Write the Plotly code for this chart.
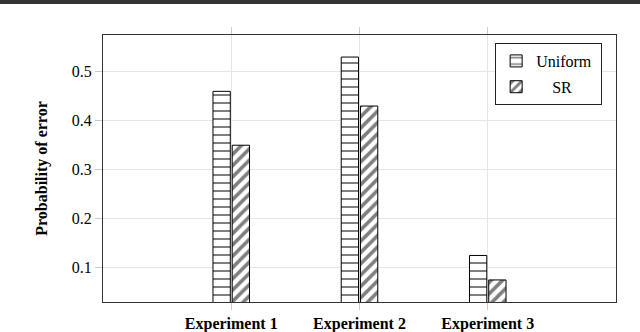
import plotly.graph_objects as go

experiments = ["Experiment 1", "Experiment 2", "Experiment 3"]
uniform = [0.46, 0.53, 0.125]
sr = [0.35, 0.43, 0.075]
y_ticks = [0.1, 0.2, 0.3, 0.4, 0.5]

serif = "Liberation Serif"

fig = go.Figure()
fig.add_trace(go.Bar(
    x=experiments, y=uniform, name="Uniform\u00a0",
    legendgroup="u",
    marker=dict(color="white", line=dict(color="black", width=1),
                pattern=dict(shape="-", fgcolor="black", bgcolor="white", size=8, solidity=0.25)),
))
fig.add_trace(go.Bar(
    x=experiments, y=sr, name="\u00a0\u00a0\u00a0\u00a0SR",
    legendgroup="s",
    marker=dict(color="white", line=dict(color="black", width=1),
                pattern=dict(shape="/", fgcolor="black", bgcolor="white", size=8, solidity=0.45)),
))

# dark strip across the very top of the picture
fig.add_shape(type="rect", xref="paper", yref="paper",
              x0=-0.25, x1=1.1, y0=1.116, y1=1.135,
              fillcolor="#333", line_width=0, layer="above")

fig.update_layout(
    width=640, height=332,
    margin=dict(l=103, r=24, t=35, b=30),
    paper_bgcolor="white", plot_bgcolor="white",
    barmode="group", bargap=0.7, bargroupgap=0.1,
    font=dict(family=serif, color="black"),
    showlegend=True,
    legend=dict(x=0.973, y=0.97, xanchor="right", yanchor="top",
                bordercolor="#222", borderwidth=1, bgcolor="white",
                font=dict(family=serif, size=16),
                traceorder="grouped", tracegroupgap=2, itemwidth=30),
)
fig.update_xaxes(
    range=[-1, 3], showgrid=True, gridcolor="#e6e6e6", automargin=False,
    showline=True, linecolor="#333", linewidth=1, mirror="ticks",
    ticks="outside", ticklen=7, tickcolor="#cccccc",
    tickfont=dict(family=serif, size=16, weight="bold"),
)
fig.update_yaxes(
    range=[0.03, 0.575], tickvals=y_ticks, ticktext=[str(v) for v in y_ticks],
    showgrid=True, gridcolor="#e6e6e6", zeroline=False, automargin=False,
    showline=True, linecolor="#333", linewidth=1, mirror=True,
    ticks="outside", ticklen=7, tickcolor="#cccccc",
    tickfont=dict(family=serif, size=16),
    title=dict(text="Probability of error", standoff=20,
               font=dict(family=serif, size=16, weight="bold")),
)

fig.write_html("out.html", config={"displayModeBar": False},
               post_script="document.body.style.margin='0';")
